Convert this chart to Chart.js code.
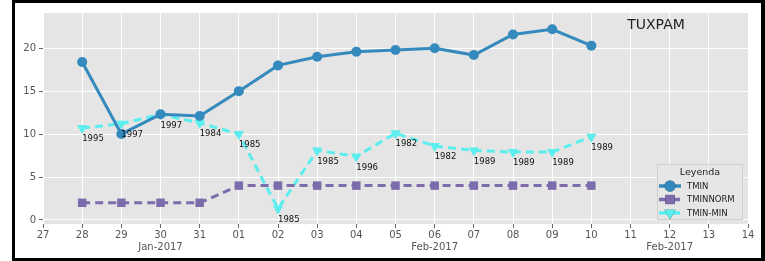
<!DOCTYPE html>
<html>
<head>
<meta charset="utf-8">
<script src="https://cdn.jsdelivr.net/npm/chart.js@4/dist/chart.umd.min.js"></script>
<style>
  html, body { margin: 0; padding: 0; background: #fff; }
  #wrap { width: 765px; height: 261px; position: relative; }
</style>
</head>
<body>
<div id="wrap"><canvas id="chart"></canvas></div>
<script>
// x positions: 0 = 27 Jan ... 18 = 14 Feb
const dayLabels = ["27","28","29","30","31","01","02","03","04","05","06","07","08","09","10","11","12","13","14"];
const monthLabels = { 3: "Jan-2017", 10: "Feb-2017", 16: "Feb-2017" };
const dayIdx = [1,2,3,4,5,6,7,8,9,10,11,12,13,14];

const tmin     = [18.4, 10.0, 12.3, 12.1, 15.0, 18.0, 19.0, 19.6, 19.8, 20.0, 19.2, 21.6, 22.2, 20.3];
const tminNorm = [2, 2, 2, 2, 4, 4, 4, 4, 4, 4, 4, 4, 4, 4];
const tminMin  = [10.7, 11.2, 12.3, 11.3, 10.0, 1.3, 8.1, 7.4, 10.1, 8.6, 8.1, 7.9, 7.9, 9.7];
const minYears = ["1995","1997","1997","1984","1985","1985","1985","1996","1982","1982","1989","1989","1989","1989"];

const yTicks = [0, 5, 10, 15, 20];

const pts = arr => arr.map((v, i) => ({ x: dayIdx[i], y: v }));

const bgPlugin = {
  id: "bg",
  beforeDraw(chart) {
    const { ctx, chartArea: a } = chart;
    ctx.save();
    ctx.fillStyle = "#e5e5e5";
    ctx.fillRect(a.left, a.top, a.right - a.left, a.bottom - a.top);
    ctx.restore();
  },
  afterDraw(chart) {
    const { ctx } = chart;
    const xs = chart.scales.x, ys = chart.scales.y;
    ctx.save();
    // year labels for TMIN-MIN
    ctx.font = "8.5px 'DejaVu Sans'";
    ctx.fillStyle = "#111";
    ctx.textBaseline = "middle";
    ctx.textAlign = "left";
    tminMin.forEach((v, i) => {
      ctx.fillText(minYears[i], xs.getPixelForValue(dayIdx[i]), ys.getPixelForValue(v) + 11);
    });
    // title
    ctx.font = "14px 'DejaVu Sans'";
    ctx.textAlign = "center";
    ctx.fillStyle = "#222";
    ctx.fillText("TUXPAM", 656, 25);
    // legend
    const lx = 657, ly = 164, lw = 86, lh = 56;
    ctx.fillStyle = "rgba(229,229,229,0.9)";
    ctx.strokeStyle = "#d0d0d0";
    ctx.lineWidth = 1;
    ctx.fillRect(lx, ly, lw, lh);
    ctx.strokeRect(lx + 0.5, ly + 0.5, lw - 1, lh - 1);
    ctx.fillStyle = "#222";
    ctx.font = "9.5px 'DejaVu Sans'";
    ctx.fillText("Leyenda", lx + lw / 2, ly + 9);
    ctx.font = "8.5px 'DejaVu Sans'";
    ctx.textAlign = "left";
    chart.data.datasets.forEach((ds, i) => {
      const yy = ly + 22 + i * 13.5;
      ctx.strokeStyle = ds.borderColor;
      ctx.lineWidth = 3.5;
      ctx.setLineDash(ds.borderDash || []);
      ctx.beginPath();
      ctx.moveTo(lx + 2, yy);
      ctx.lineTo(lx + 24, yy);
      ctx.stroke();
      ctx.setLineDash([]);
      Chart.helpers.drawPoint(ctx, {
        pointStyle: ds.pointStyle, rotation: ds.pointRotation || 0,
        radius: ds.pointRadius + 0.5, borderWidth: 0
      }, lx + 13, yy);
      ctx.fillStyle = ds.borderColor;
      ctx.fill();
      ctx.fillStyle = "#222";
      ctx.fillText(ds.label, lx + 30, yy + 0.5);
    });
    // figure frame
    ctx.fillStyle = "#000";
    ctx.fillRect(12, 0, 3, 261);
    ctx.fillRect(12, 0, 753, 3);
    ctx.fillRect(761, 0, 4, 261);
    ctx.fillRect(12, 258, 753, 3);
    ctx.restore();
  }
};

new Chart(document.getElementById("chart"), {
  type: "line",
  data: {
    datasets: [
      { label: "TMIN", data: pts(tmin), borderColor: "#348abd", backgroundColor: "#348abd",
        borderWidth: 3, pointStyle: "circle", pointRadius: 5, pointBorderWidth: 0 },
      { label: "TMINNORM", data: pts(tminNorm), borderColor: "#7d6cab", backgroundColor: "#7d6cab",
        borderWidth: 3, borderDash: [8, 5], pointStyle: "rect", pointRadius: 6, pointBorderWidth: 0 },
      { label: "TMIN-MIN", data: pts(tminMin), borderColor: "#5ceeee", backgroundColor: "#5ceeee",
        borderWidth: 3, borderDash: [8, 5], pointStyle: "triangle", pointRotation: 180,
        pointRadius: 6, pointBorderWidth: 0 }
    ]
  },
  options: {
    responsive: true,
    maintainAspectRatio: false,
    animation: false,
    layout: { padding: { left: 13, right: 17, top: 13, bottom: 3 } },
    plugins: { legend: { display: false }, tooltip: { enabled: false } },
    scales: {
      x: {
        type: "linear", min: 0, max: 18,
        afterBuildTicks: s => { s.ticks = dayLabels.map((_, i) => ({ value: i })); },
        afterFit: s => { s.height = 34; },
        grid: { color: "#ffffff", lineWidth: 1, tickColor: "#666", tickLength: 4, drawTicks: true },
        border: { display: false },
        ticks: {
          color: "#555", font: { family: "DejaVu Sans", size: 10 }, padding: 1, maxRotation: 0,
          autoSkip: false,
          callback: v => monthLabels[v] ? [dayLabels[v], monthLabels[v]] : dayLabels[v]
        }
      },
      y: {
        min: -0.47, max: 24.1,
        afterBuildTicks: s => { s.ticks = yTicks.map(v => ({ value: v })); },
        afterFit: s => { s.width = 30; },
        grid: { color: "#ffffff", lineWidth: 1, tickColor: "#666", tickLength: 4 },
        border: { display: false },
        ticks: { color: "#555", font: { family: "DejaVu Sans", size: 10 }, padding: 3 }
      }
    }
  },
  plugins: [bgPlugin]
});
</script>
</body>
</html>
